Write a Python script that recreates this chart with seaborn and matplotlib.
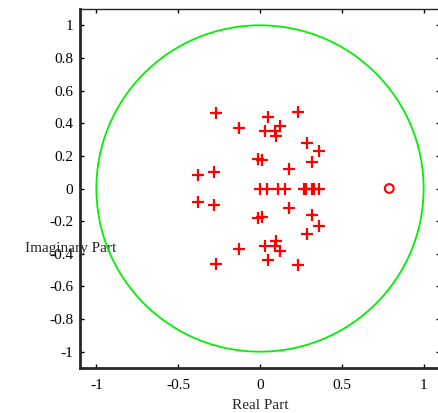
import numpy as np
import matplotlib
matplotlib.use("Agg")
import matplotlib.pyplot as plt
from matplotlib.ticker import FuncFormatter
import seaborn as sns

# === DATA ===
# poles in the upper half plane (the lower half holds their conjugates)
pole_re_upper = [-0.27, -0.13, 0.05, 0.23, 0.03, 0.09, 0.12, 0.10, 0.29, 0.36,
                 -0.01, 0.01, 0.32, 0.18, -0.38, -0.28]
pole_im_upper = [0.46, 0.37, 0.44, 0.47, 0.35, 0.35, 0.38, 0.32, 0.28, 0.23,
                 0.18, 0.175, 0.16, 0.12, 0.08, 0.10]
# poles on the real axis
pole_re_real = [0.0, 0.04, 0.11, 0.15, 0.27, 0.28, 0.32, 0.33, 0.36]
# zeros
zero_re = [0.79]
zero_im = [0.0]

x_ticks = [-1, -0.5, 0, 0.5, 1]
y_ticks = [-1, -0.8, -0.6, -0.4, -0.2, 0, 0.2, 0.4, 0.6, 0.8, 1]

pole_re = pole_re_upper + pole_re_upper + pole_re_real
pole_im = pole_im_upper + [-v for v in pole_im_upper] + [0.0] * len(pole_re_real)

# === STYLE ===
sns.set_style("ticks")
plt.rcParams['font.family'] = ['Liberation Serif', 'DejaVu Serif']
plt.rcParams['font.size'] = 11

fig = plt.figure(figsize=(4.39, 4.13), dpi=100)
ax = fig.add_axes([80 / 439, 45 / 413, 360 / 439, 359 / 413])

# unit circle
ax.add_patch(plt.Circle((0, 0), 1, fill=False, color="#00f000", lw=1.3))

sns.scatterplot(x=pole_re, y=pole_im, marker="+", s=80, color="red",
                linewidth=1.6, ax=ax)
sns.scatterplot(x=zero_re, y=zero_im, marker="o", s=40, facecolor="none",
                edgecolor="red", linewidth=1.5, ax=ax)

ax.set_xlim(-1.1, 1.1)
ax.set_ylim(-1.1, 1.1)
ax.set_xticks(x_ticks)
ax.set_yticks(y_ticks)
fmt = FuncFormatter(lambda v, p: "%g" % round(v, 2))
ax.xaxis.set_major_formatter(fmt)
ax.yaxis.set_major_formatter(fmt)
ax.tick_params(direction="in", length=3, width=1, top=True, right=True,
               colors="black")
ax.tick_params(axis="x", pad=8)
ax.tick_params(axis="y", pad=5)

for side in ["left", "bottom"]:
    ax.spines[side].set_linewidth(2)
for side in ["top", "right"]:
    ax.spines[side].set_linewidth(1)

ax.set_xlabel("Real Part")
ax.xaxis.set_label_coords(0.501, -0.086)
ax.set_ylabel("Imaginary Part", rotation=0, ha="center", va="center")
ax.yaxis.set_label_coords(-0.025, 0.334)

plt.savefig("out.png", dpi=100)
